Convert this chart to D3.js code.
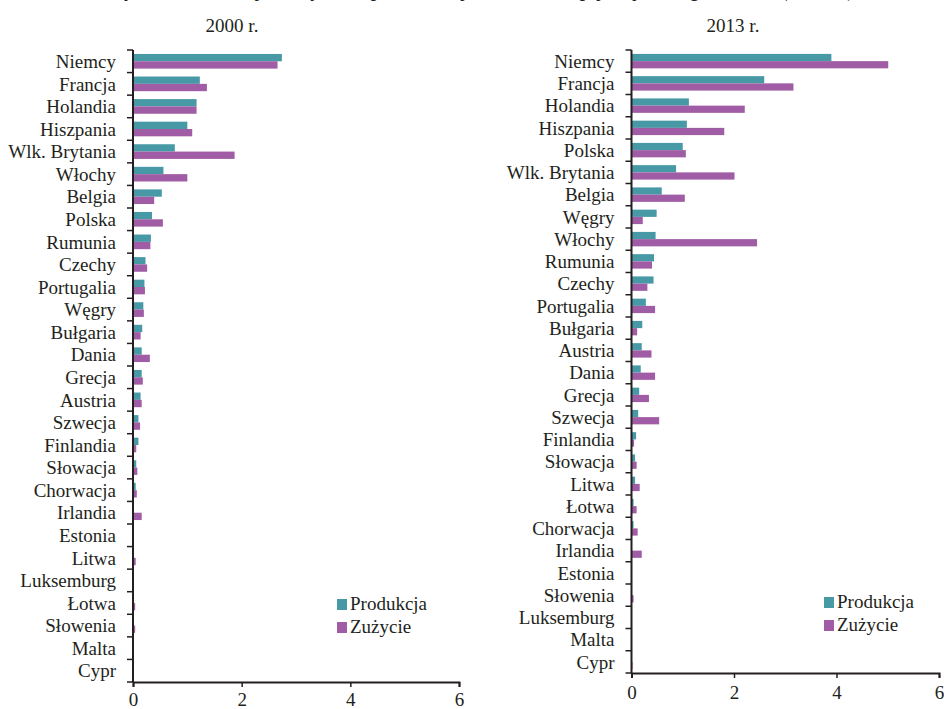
<!DOCTYPE html>
<html>
<head>
<meta charset="utf-8">
<script src="https://cdn.jsdelivr.net/npm/d3@7"></script>
<style>
  html, body { margin: 0; padding: 0; background: #ffffff; }
  svg text { font-family: "Liberation Serif", "Times New Roman", serif; fill: #231f20; }
</style>
</head>
<body>
<svg id="chart" width="944" height="709"></svg>
<script>
// ---- data ----
const titleText = "Wykres 4. Produkcja i zużycie biopaliw w krajach Unii Europejskiej według wielkości (mln ton)";
const seriesNames = ["Produkcja", "Zużycie"];
const seriesColors = ["#4799a6", "#a05ca4"];
const xTicks = [0, 2, 4, 6];

const year2000Label = "2000 r.";
const cats2000 = ["Niemcy","Francja","Holandia","Hiszpania","Wlk. Brytania","Włochy","Belgia","Polska","Rumunia","Czechy","Portugalia","Węgry","Bułgaria","Dania","Grecja","Austria","Szwecja","Finlandia","Słowacja","Chorwacja","Irlandia","Estonia","Litwa","Luksemburg","Łotwa","Słowenia","Malta","Cypr"];
const prod2000 = [2.74,1.23,1.17,1.00,0.77,0.56,0.53,0.35,0.33,0.23,0.21,0.19,0.17,0.16,0.16,0.14,0.10,0.10,0.06,0.05,0.01,0,0.01,0,0,0,0,0];
const cons2000 = [2.66,1.36,1.17,1.09,1.87,1.00,0.39,0.55,0.32,0.26,0.22,0.20,0.14,0.31,0.18,0.16,0.13,0.06,0.08,0.07,0.16,0.01,0.05,0,0.04,0.04,0,0.01];

const year2013Label = "2013 r.";
const cats2013 = ["Niemcy","Francja","Holandia","Hiszpania","Polska","Wlk. Brytania","Belgia","Węgry","Włochy","Rumunia","Czechy","Portugalia","Bułgaria","Austria","Dania","Grecja","Szwecja","Finlandia","Słowacja","Litwa","Łotwa","Chorwacja","Irlandia","Estonia","Słowenia","Luksemburg","Malta","Cypr"];
const prod2013 = [3.90,2.59,1.12,1.08,1.00,0.87,0.59,0.49,0.47,0.44,0.43,0.28,0.21,0.20,0.18,0.15,0.13,0.09,0.07,0.07,0.04,0.04,0.01,0,0,0,0,0];
const cons2013 = [5.01,3.16,2.21,1.81,1.06,2.01,1.04,0.22,2.45,0.40,0.31,0.46,0.11,0.39,0.46,0.34,0.54,0.05,0.10,0.16,0.10,0.12,0.20,0.01,0.04,0,0,0.02];

// ---- drawing ----
const svg = d3.select("#chart");
const FS = 19;

svg.append("text")
  .attr("x", 483).attr("y", -3)
  .attr("text-anchor", "middle")
  .style("font-size", "19px").style("font-weight", "bold").style("font-style", "italic")
  .text(titleText);

function drawPanel(cfg) {
  const g = svg.append("g");
  const x = d3.scaleLinear().domain([0, 6]).range([cfg.x0, cfg.x1]);
  const y = d3.scaleBand().domain(cfg.cats).range([cfg.y0, cfg.y1]).paddingInner(0).paddingOuter(0);
  const sub = d3.scaleBand().domain([0, 1]).range([0, y.bandwidth()]).paddingOuter(0.54).paddingInner(0);

  // subtitle
  g.append("text").attr("x", cfg.titleX).attr("y", 32)
    .attr("text-anchor", "middle").style("font-size", FS + "px").text(cfg.year);

  // bars
  const rows = cfg.cats.map((c, i) => ({ c, v: [cfg.prod[i], cfg.cons[i]] }));
  rows.forEach(r => {
    r.v.forEach((v, k) => {
      if (v <= 0) return;
      g.append("rect")
        .attr("x", x(0))
        .attr("y", y(r.c) + sub(k))
        .attr("width", x(v) - x(0))
        .attr("height", sub.bandwidth())
        .attr("fill", seriesColors[k]);
    });
  });

  // y axis line and ticks at band boundaries
  g.append("line").attr("x1", x(0)).attr("x2", x(0)).attr("y1", cfg.y0).attr("y2", cfg.y1)
    .attr("stroke", "#231f20").attr("stroke-width", 2);
  const bounds = cfg.cats.map(c => y(c)).concat([cfg.y1]);
  g.selectAll(".ytick").data(bounds).enter().append("line")
    .attr("x1", x(0) - 6).attr("x2", x(0)).attr("y1", d => d).attr("y2", d => d)
    .attr("stroke", "#231f20").attr("stroke-width", 1.5);
  g.selectAll(".ylab").data(cfg.cats).enter().append("text")
    .attr("x", x(0) - 17).attr("y", d => y(d) + y.bandwidth() / 2).attr("dy", "0.35em")
    .attr("text-anchor", "end").style("font-size", FS + "px").text(d => d);

  // x axis
  const xa = g.append("g").attr("transform", `translate(0,${cfg.y1})`)
    .call(d3.axisBottom(x).tickValues(xTicks).tickFormat(d3.format("d")).tickSize(5).tickPadding(cfg.tickPad));
  xa.select(".domain").attr("stroke", "#231f20").attr("stroke-width", 2);
  xa.selectAll(".tick line").attr("stroke", "#231f20").attr("stroke-width", 1.5);
  xa.selectAll(".tick text").style("font-size", FS + "px").style("font-family", "Liberation Serif, serif").attr("fill", "#231f20");

  // legend
  seriesNames.forEach((n, k) => {
    g.append("rect").attr("x", cfg.legX).attr("y", cfg.legY + k * 23).attr("width", 10).attr("height", 11)
      .attr("fill", seriesColors[k]);
    g.append("text").attr("x", cfg.legX + 13).attr("y", cfg.legY + k * 23 + 11)
      .style("font-size", FS + "px").text(n);
  });
}

drawPanel({ cats: cats2000, prod: prod2000, cons: cons2000, year: year2000Label,
  x0: 133, x1: 459, y0: 50, y1: 682, titleX: 232, legX: 337, legY: 599, tickPad: 6 });
drawPanel({ cats: cats2013, prod: prod2013, cons: cons2013, year: year2013Label,
  x0: 631.5, x1: 939, y0: 50, y1: 673, titleX: 733, legX: 824, legY: 597, tickPad: 8 });
</script>
</body>
</html>
